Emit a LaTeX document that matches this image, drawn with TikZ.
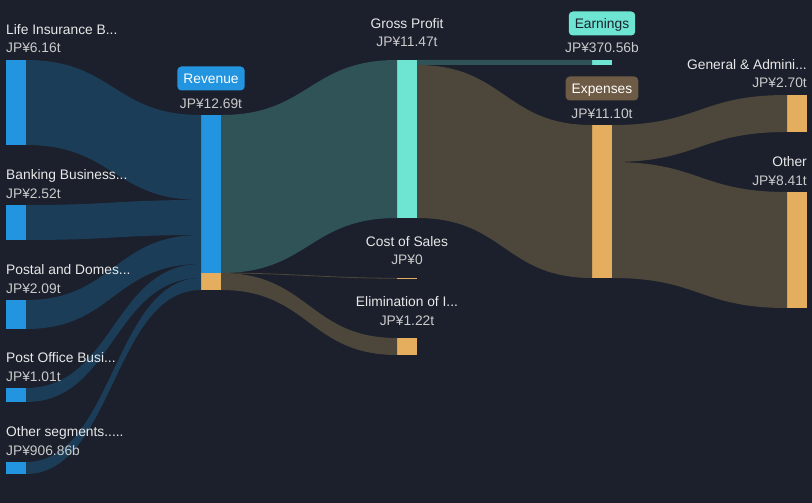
\documentclass[tikz,border=0pt]{standalone}
\usepackage{fontspec}
\setmainfont{Liberation Sans}
\usetikzlibrary{positioning,calc}

\definecolor{bgdark}{HTML}{1B202C}
\definecolor{segblue}{HTML}{2394DF}
\definecolor{segflow}{HTML}{1C3D58}
\definecolor{gpteal}{HTML}{6DE5D2}
\definecolor{tealflow}{HTML}{2F5357}
\definecolor{costorange}{HTML}{E5AE5F}
\definecolor{brownflow}{HTML}{4D463B}
\definecolor{exppill}{HTML}{6E5B45}
\definecolor{txtwhite}{HTML}{E8E8E8}
\definecolor{txtgray}{HTML}{CACACA}

% sankey band: source top, source bottom, target top, target bottom, colour
\newcommand{\sflow}[5]{%
  \fill[#5] let \p1=(#1), \p2=(#2), \p3=(#3), \p4=(#4),
    \p5=($(\p1)!0.5!(\p3)$) in
    (\p1) .. controls (\x5,\y1) and (\x5,\y3) .. (\p3)
    -- (\p4) .. controls (\x5,\y4) and (\x5,\y2) .. (\p2) -- cycle;}

\begin{document}
\begin{tikzpicture}[
    x=1pt, y=-1pt,
    every node/.style={font=\fontsize{13.8}{16}\selectfont},
    bar/.style={rectangle, inner sep=0pt, outer sep=0pt, minimum width=20pt, minimum height=#1, anchor=north west},
    lbl/.style={text=txtwhite, inner sep=0pt},
    val/.style={text=txtgray, inner sep=0pt},
    pill/.style={rounded corners=4pt, minimum height=24pt, inner xsep=6pt, inner ysep=0pt, text height=9.5pt, text depth=0pt, text=white}
]
\fill[bgdark] (0,0) rectangle (812,503);

% bars
\node (life) [bar=85pt, fill=segblue] at (6,60) {};
\node (bank) [bar=35pt, fill=segblue] at (6,205) {};
\node (postal) [bar=29pt, fill=segblue] at (6,300) {};
\node (posto) [bar=14pt, fill=segblue] at (6,388) {};
\node (oseg) [bar=12pt, fill=segblue] at (6,462) {};
\node (rev) [bar=158pt, fill=segblue] at (201,115) {};
\node (revx) [bar=17pt, fill=costorange, below=0pt of rev] {};
\node (gp) [bar=158pt, fill=gpteal] at (397,60) {};
\node (cost) [bar=1.5pt, fill=costorange] at (397,277.5) {};
\node (elim) [bar=17pt, fill=costorange] at (397,338) {};
\node (earn) [bar=5pt, fill=gpteal] at (592,60) {};
\node (exp) [bar=153pt, fill=costorange] at (592,125) {};
\node (ga) [bar=37pt, fill=costorange] at (787,95) {};
\node (oth) [bar=116pt, fill=costorange] at (787,192) {};

% split points
\coordinate (r1) at ($(rev.north west)+(0,85)$);
\coordinate (r2) at ($(rev.north west)+(0,120)$);
\coordinate (r3) at ($(rev.north west)+(0,149)$);
\coordinate (r4) at ($(rev.north west)+(0,163)$);
\coordinate (g1) at ($(gp.north east)+(0,5)$);
\coordinate (e1) at ($(exp.north east)+(0,37)$);

% flows
\sflow{life.north east}{life.south east}{rev.north west}{r1}{segflow}
\sflow{bank.north east}{bank.south east}{r1}{r2}{segflow}
\sflow{postal.north east}{postal.south east}{r2}{r3}{segflow}
\sflow{posto.north east}{posto.south east}{r3}{r4}{segflow}
\sflow{oseg.north east}{oseg.south east}{r4}{revx.south west}{segflow}
\sflow{rev.north east}{rev.south east}{gp.north west}{gp.south west}{tealflow}
\draw[brownflow, line width=0.8pt] (revx.north east) to[out=0, in=180] (cost.west);
\sflow{revx.north east}{revx.south east}{elim.north west}{elim.south west}{brownflow}
\sflow{gp.north east}{g1}{earn.north west}{earn.south west}{tealflow}
\sflow{g1}{gp.south east}{exp.north west}{exp.south west}{brownflow}
\sflow{exp.north east}{e1}{ga.north west}{ga.south west}{brownflow}
\sflow{e1}{exp.south east}{oth.north west}{oth.south west}{brownflow}

% labels
\node (lifev) [val, above=7pt of life.north west, anchor=base west] {JP¥6.16t};
\node [lbl, above=18.5pt of lifev.base west, anchor=base west] {Life Insurance B...};
\node (bankv) [val, above=7pt of bank.north west, anchor=base west] {JP¥2.52t};
\node [lbl, above=18.5pt of bankv.base west, anchor=base west] {Banking Business...};
\node (postalv) [val, above=7pt of postal.north west, anchor=base west] {JP¥2.09t};
\node [lbl, above=18.5pt of postalv.base west, anchor=base west] {Postal and Domes...};
\node (postov) [val, above=7pt of posto.north west, anchor=base west] {JP¥1.01t};
\node [lbl, above=18.5pt of postov.base west, anchor=base west] {Post Office Busi...};
\node (osegv) [val, above=7pt of oseg.north west, anchor=base west] {JP¥906.86b};
\node [lbl, above=18.5pt of osegv.base west, anchor=base west] {Other segments.....};

\node (revv) [val, above=7pt of rev.north, anchor=base] {JP¥12.69t};
\node [pill, fill=segblue, above=29.5pt of revv.base, anchor=center] {Revenue};

\node (gpv) [val, above=13pt of gp.north, anchor=base] {JP¥11.47t};
\node [lbl, above=18.5pt of gpv.base, anchor=base] {Gross Profit};
\node (costv) [val, above=13pt of cost.north, anchor=base] {JP¥0};
\node [lbl, above=18.5pt of costv.base, anchor=base] {Cost of Sales};
\node (elimv) [val, above=13pt of elim.north, anchor=base] {JP¥1.22t};
\node [lbl, above=18.5pt of elimv.base, anchor=base] {Elimination of I...};

\node (earnv) [val, above=7pt of earn.north, anchor=base] {JP¥370.56b};
\node [pill, fill=gpteal, text=bgdark, above=29.5pt of earnv.base, anchor=center] {Earnings};
\node (expv) [val, above=7pt of exp.north, anchor=base] {JP¥11.10t};
\node [pill, fill=exppill, above=29.5pt of expv.base, anchor=center] {Expenses};

\node (gav) [val, above=7pt of ga.north east, anchor=base east] {JP¥2.70t};
\node [lbl, above=18.5pt of gav.base east, anchor=base east] {General \& Admini...};
\node (othv) [val, above=7pt of oth.north east, anchor=base east] {JP¥8.41t};
\node [lbl, above=18.5pt of othv.base east, anchor=base east] {Other};
\end{tikzpicture}
\end{document}
